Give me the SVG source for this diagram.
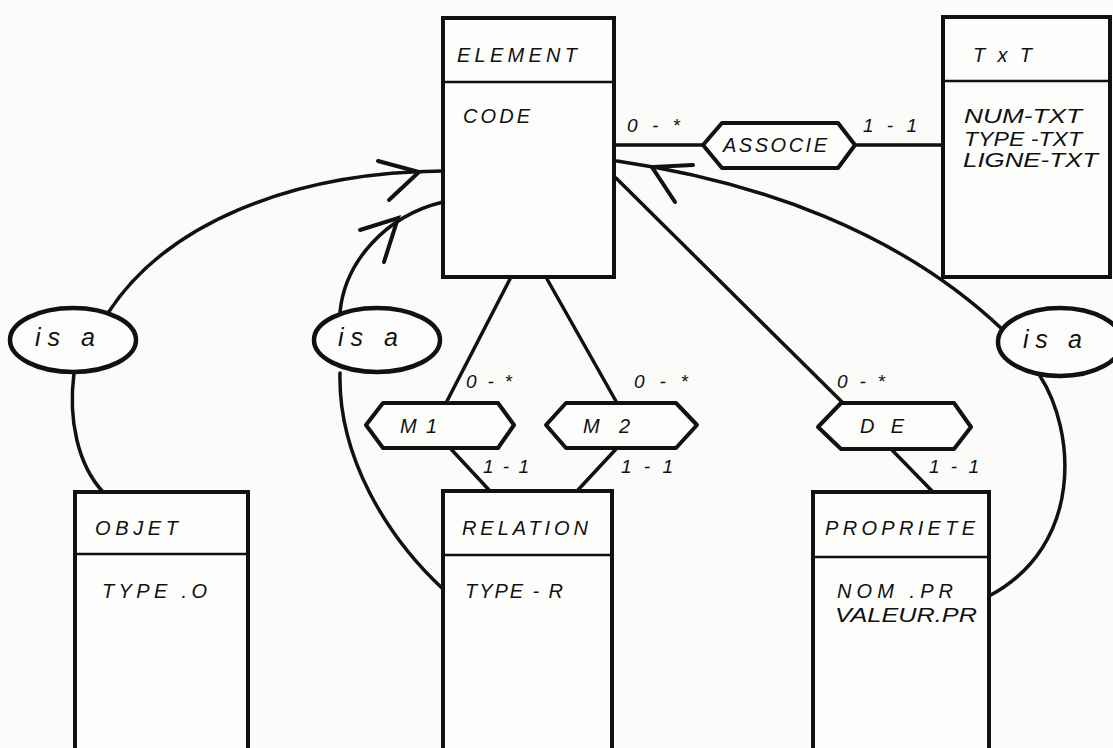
<svg xmlns="http://www.w3.org/2000/svg" width="1113" height="748" viewBox="0 0 1113 748">
<style>
.bg{fill:#fbfbf9}
.box{fill:#fdfdfc;stroke:#111;stroke-width:4}
.div{stroke:#111;stroke-width:2.5}
.hex{fill:#fdfdfc;stroke:#111;stroke-width:4;stroke-linejoin:round}
.ell{fill:#fdfdfc;stroke:#111;stroke-width:4.5}
.con{fill:none;stroke:#111;stroke-width:3.5;stroke-linecap:round}
.arr{fill:none;stroke:#111;stroke-width:4;stroke-linecap:round;stroke-linejoin:miter}
text{font-family:"Liberation Sans","DejaVu Sans",sans-serif;font-style:italic;fill:#111;font-size:20px}
.lbl{font-size:19px}
.isa{font-size:25px}
</style>
<rect class="bg" x="0" y="0" width="1113" height="748"/>
<g id="connectors">
<path class="con" d="M614,145 L703,145"/>
<path class="con" d="M855,145 L943,145"/>
<path class="con" d="M510,279 L446,403"/>
<path class="con" d="M547,279 L617,403"/>
<path class="con" d="M616,178 L843,403"/>
<path class="con" d="M450,448 L490,491"/>
<path class="con" d="M617,448 L577,491"/>
<path class="con" d="M891,449 L933,492"/>
<path class="con" d="M108,313 C165,225 290,172 443,171"/>
<path class="con" d="M74,373 C68,420 78,465 103,492"/>
<path class="con" d="M340,312 C345,262 385,216 443,202"/>
<path class="con" d="M340,373 C338,455 385,535 443,589"/>
<path class="con" d="M617,161 C760,182 900,232 1003,330"/>
<path class="con" d="M1040,376 C1075,430 1085,545 989,596"/>
<polyline class="arr" points="378,161 419,172 389,200"/>
<polyline class="arr" points="360,230 398,218 384,262"/>
<polyline class="arr" points="693,165 652,167 675,202"/>
<text class="lbl" x="627" y="132" textLength="53" lengthAdjust="spacing">0-*</text>
<text class="lbl" x="863" y="132" textLength="54" lengthAdjust="spacing">1-1</text>
<text class="lbl" x="466" y="388" textLength="46" lengthAdjust="spacing">0-*</text>
<text class="lbl" x="634" y="388" textLength="54" lengthAdjust="spacing">0-*</text>
<text class="lbl" x="837" y="388" textLength="48" lengthAdjust="spacing">0-*</text>
<text class="lbl" x="483" y="473" textLength="46" lengthAdjust="spacing">1-1</text>
<text class="lbl" x="621" y="473" textLength="52" lengthAdjust="spacing">1-1</text>
<text class="lbl" x="929" y="473" textLength="50" lengthAdjust="spacing">1-1</text>
</g>
<g id="element">
<rect class="box" x="443" y="18" width="171" height="259"/>
<line class="div" x1="443" y1="82" x2="614" y2="82"/>
<text x="457" y="62" textLength="120" lengthAdjust="spacing">ELEMENT</text>
<text x="463" y="123" textLength="67" lengthAdjust="spacing">CODE</text>
</g>
<g id="txt">
<rect class="box" x="943" y="17" width="167" height="260"/>
<line class="div" x1="943" y1="81" x2="1110" y2="81"/>
<text x="973" y="62" font-size="22" textLength="59" lengthAdjust="spacing">TxT</text>
<text x="964" y="123" textLength="118" lengthAdjust="spacingAndGlyphs">NUM-TXT</text>
<text x="964" y="146" textLength="118" lengthAdjust="spacingAndGlyphs">TYPE -TXT</text>
<text x="963" y="167" textLength="135" lengthAdjust="spacingAndGlyphs">LIGNE-TXT</text>
</g>
<g id="associe">
<polygon class="hex" points="703,145 722,123 838,123 855,145 838,168 722,168"/>
<text x="723" y="152" textLength="104" lengthAdjust="spacing">ASSOCIE</text>
</g>
<g id="m1">
<polygon class="hex" points="366,425 383,403 498,403 514,425 498,448 383,448"/>
<text x="400" y="433" textLength="37" lengthAdjust="spacing">M 1</text>
</g>
<g id="m2">
<polygon class="hex" points="546,425 566,403 676,403 697,425 676,448 566,448"/>
<text x="583" y="433" textLength="47" lengthAdjust="spacing">M 2</text>
</g>
<g id="de">
<polygon class="hex" points="818,427 841,403 954,403 971,427 954,449 841,449"/>
<text x="860" y="433" textLength="44" lengthAdjust="spacing">DE</text>
</g>
<g id="isa-objet">
<ellipse class="ell" cx="73" cy="340" rx="63" ry="32"/>
<text class="isa" x="35" y="346" textLength="60" lengthAdjust="spacing">is a</text>
</g>
<g id="isa-relation">
<ellipse class="ell" cx="377" cy="340" rx="63" ry="32"/>
<text class="isa" x="338" y="346" textLength="60" lengthAdjust="spacing">is a</text>
</g>
<g id="isa-propriete">
<ellipse class="ell" cx="1060" cy="342" rx="62" ry="34"/>
<text class="isa" x="1023" y="348" textLength="59" lengthAdjust="spacing">is a</text>
</g>
<g id="objet">
<rect class="box" x="75" y="492" width="173" height="270"/>
<line class="div" x1="75" y1="554" x2="248" y2="554"/>
<text x="95" y="535" textLength="83" lengthAdjust="spacing">OBJET</text>
<text x="102" y="598" textLength="105" lengthAdjust="spacing">TYPE .O</text>
</g>
<g id="relation">
<rect class="box" x="443" y="491" width="169" height="270"/>
<line class="div" x1="443" y1="555" x2="612" y2="555"/>
<text x="462" y="535" textLength="126" lengthAdjust="spacing">RELATION</text>
<text x="465" y="598" textLength="98" lengthAdjust="spacing">TYPE - R</text>
</g>
<g id="propriete">
<rect class="box" x="813" y="492" width="176" height="270"/>
<line class="div" x1="813" y1="557" x2="989" y2="557"/>
<text x="825" y="535" textLength="150" lengthAdjust="spacing">PROPRIETE</text>
<text x="837" y="598" textLength="116" lengthAdjust="spacing">NOM .PR</text>
<text x="835" y="622" textLength="142" lengthAdjust="spacingAndGlyphs">VALEUR.PR</text>
</g>
</svg>
